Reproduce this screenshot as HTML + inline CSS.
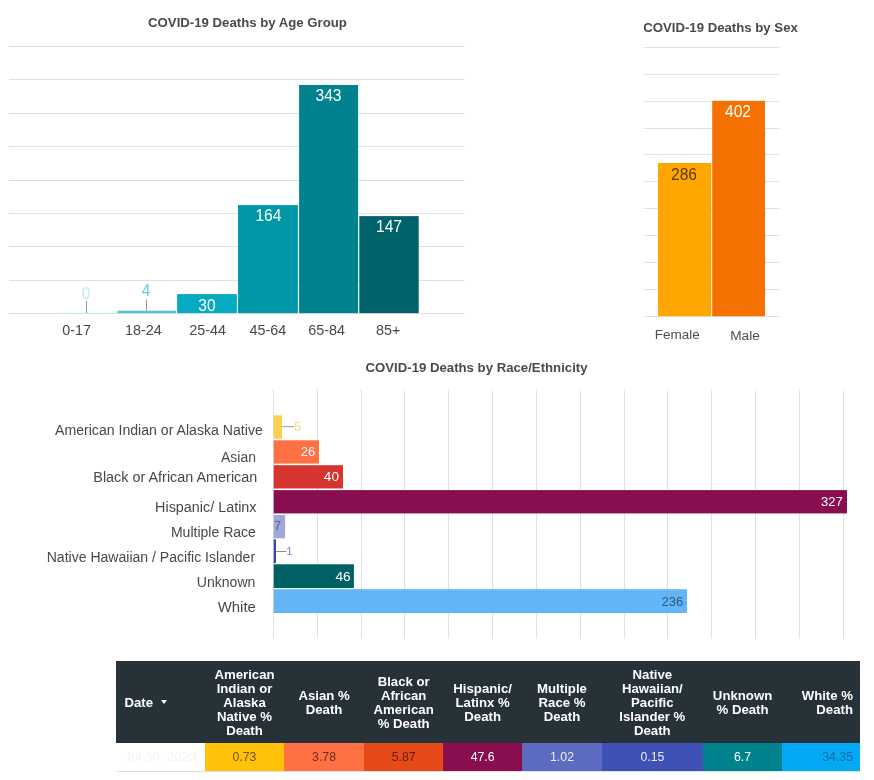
<!DOCTYPE html>
<html><head><meta charset="utf-8"><title>COVID-19 Deaths</title>
<style>
html,body{margin:0;padding:0;background:#fff;}
body{width:874px;height:780px;position:relative;overflow:hidden;font-family:"Liberation Sans",sans-serif;}
svg{position:absolute;left:0;top:0;}
svg text{font-family:"Liberation Sans",sans-serif;}
.t{font-weight:bold;font-size:13.2px;fill:#4a4a4a;}
.ax{font-size:14.4px;fill:#484848;}
.rl{font-size:14px;fill:#484848;}
.v{font-size:15.6px;}
.rv{font-size:12.3px;}
#tbl{position:absolute;left:116px;top:661px;width:744px;height:110px;}
#tbl .h{position:absolute;top:0;height:82px;background:#263238;color:#fff;font-weight:bold;font-size:13.2px;line-height:14px;display:flex;align-items:center;justify-content:center;text-align:center;}
#tbl .h span{position:relative;top:0.7px;}
#tbl .c{position:absolute;top:82px;height:28px;font-size:12.3px;line-height:28px;text-align:center;}
</style></head><body>
<svg width="874" height="780" viewBox="0 0 874 780">

<g><rect x="9" y="313" width="455.5" height="1" fill="#e0e0e0"/><rect x="9" y="280" width="455.5" height="1" fill="#e0e0e0"/><rect x="9" y="246" width="455.5" height="1" fill="#e0e0e0"/><rect x="9" y="213" width="455.5" height="1" fill="#e0e0e0"/><rect x="9" y="180" width="455.5" height="1" fill="#e0e0e0"/><rect x="9" y="146" width="455.5" height="1" fill="#e0e0e0"/><rect x="9" y="113" width="455.5" height="1" fill="#e0e0e0"/><rect x="9" y="79" width="455.5" height="1" fill="#e0e0e0"/><rect x="9" y="46" width="455.5" height="1" fill="#e0e0e0"/></g>
<text class="t" x="247.5" y="27.2" text-anchor="middle">COVID-19 Deaths by Age Group</text>
<rect x="56.8" y="312.8" width="59.2" height="1" fill="#b2ebf2"/>
<rect x="117.4" y="310.7" width="58.60" height="2.40" fill="#4fc3d4"/>
<rect x="177.1" y="294.1" width="59.80" height="19.00" fill="#05abc0"/>
<rect x="238" y="205.1" width="59.90" height="108.00" fill="#0097a7"/>
<rect x="299.1" y="85" width="59.00" height="228.10" fill="#00838f"/>
<rect x="359.3" y="216.1" width="59.40" height="97.00" fill="#00626b"/>
<rect x="86" y="301" width="1" height="12" fill="#999"/>
<rect x="146" y="299.4" width="1" height="11.4" fill="#999"/>
<text class="v" x="86" y="299" text-anchor="middle" fill="#c0e9f0">0</text>
<text class="v" x="146.2" y="296.4" text-anchor="middle" fill="#6ccadb">4</text>
<text class="v" x="207" y="310.6" text-anchor="middle" fill="#fff">30</text>
<text class="v" x="268.4" y="221" text-anchor="middle" fill="#fff">164</text>
<text class="v" x="328.5" y="101.3" text-anchor="middle" fill="#fff">343</text>
<text class="v" x="389" y="232.2" text-anchor="middle" fill="#fff">147</text>
<text class="ax" x="76.6" y="335" text-anchor="middle">0-17</text>
<text class="ax" x="143.4" y="335" text-anchor="middle">18-24</text>
<text class="ax" x="207.7" y="335" text-anchor="middle">25-44</text>
<text class="ax" x="267.9" y="335" text-anchor="middle">45-64</text>
<text class="ax" x="326.6" y="335" text-anchor="middle">65-84</text>
<text class="ax" x="388.3" y="335" text-anchor="middle">85+</text>
<g><rect x="644" y="316" width="135.5" height="1" fill="#e0e0e0"/><rect x="644" y="289" width="135.5" height="1" fill="#e0e0e0"/><rect x="644" y="262" width="135.5" height="1" fill="#e0e0e0"/><rect x="644" y="235" width="135.5" height="1" fill="#e0e0e0"/><rect x="644" y="208" width="135.5" height="1" fill="#e0e0e0"/><rect x="644" y="181" width="135.5" height="1" fill="#e0e0e0"/><rect x="644" y="154" width="135.5" height="1" fill="#e0e0e0"/><rect x="644" y="128" width="135.5" height="1" fill="#e0e0e0"/><rect x="644" y="101" width="135.5" height="1" fill="#e0e0e0"/><rect x="644" y="74" width="135.5" height="1" fill="#e0e0e0"/><rect x="644" y="47" width="135.5" height="1" fill="#e0e0e0"/></g>
<text class="t" x="720.5" y="32" text-anchor="middle">COVID-19 Deaths by Sex</text>
<rect x="658" y="163" width="53.2" height="153.20" fill="#ffa600"/>
<rect x="712.2" y="100.8" width="52.8" height="215.40" fill="#f57200"/>
<text class="v" x="684" y="179.5" text-anchor="middle" fill="#5c3a00">286</text>
<text class="v" x="738" y="117" text-anchor="middle" fill="#fff">402</text>
<text x="677.2" y="338.5" text-anchor="middle" style="font-size:13.5px" fill="#4d4d4d">Female</text>
<text x="745" y="340" text-anchor="middle" style="font-size:13.7px" fill="#4d4d4d">Male</text>
<text class="t" x="476.5" y="371.5" text-anchor="middle">COVID-19 Deaths by Race/Ethnicity</text>
<g><rect x="273" y="389.5" width="1" height="249" fill="#e0e0e0"/><rect x="317" y="389.5" width="1" height="249" fill="#e0e0e0"/><rect x="361" y="389.5" width="1" height="249" fill="#e0e0e0"/><rect x="404" y="389.5" width="1" height="249" fill="#e0e0e0"/><rect x="448" y="389.5" width="1" height="249" fill="#e0e0e0"/><rect x="492" y="389.5" width="1" height="249" fill="#e0e0e0"/><rect x="536" y="389.5" width="1" height="249" fill="#e0e0e0"/><rect x="580" y="389.5" width="1" height="249" fill="#e0e0e0"/><rect x="624" y="389.5" width="1" height="249" fill="#e0e0e0"/><rect x="667" y="389.5" width="1" height="249" fill="#e0e0e0"/><rect x="711" y="389.5" width="1" height="249" fill="#e0e0e0"/><rect x="755" y="389.5" width="1" height="249" fill="#e0e0e0"/><rect x="799" y="389.5" width="1" height="249" fill="#e0e0e0"/><rect x="843" y="389.5" width="1" height="249" fill="#e0e0e0"/></g>
<rect x="273.7" y="415.35" width="8.30" height="23.3" fill="#fbd04a"/>
<text class="rl" x="262.79999999999995" y="434.7" text-anchor="end" textLength="207.8" lengthAdjust="spacingAndGlyphs">American Indian or Alaska Native</text>
<rect x="273.7" y="440.27" width="45.30" height="23.3" fill="#ff7043"/>
<text class="rl" x="255.9" y="461.6" text-anchor="end" textLength="34.8" lengthAdjust="spacingAndGlyphs">Asian</text>
<rect x="273.7" y="465.19" width="69.30" height="23.3" fill="#d7352f"/>
<text class="rl" x="257.29999999999995" y="481.9" text-anchor="end" textLength="164" lengthAdjust="spacingAndGlyphs">Black or African American</text>
<rect x="273.7" y="490.11" width="573.30" height="23.3" fill="#880e4f"/>
<text class="rl" x="256.5" y="512.1" text-anchor="end" textLength="101.4" lengthAdjust="spacingAndGlyphs">Hispanic/ Latinx</text>
<rect x="273.7" y="515.03" width="11.40" height="23.3" fill="#9fa8da"/>
<text class="rl" x="255.9" y="536.6" text-anchor="end" textLength="85" lengthAdjust="spacingAndGlyphs">Multiple Race</text>
<rect x="273.7" y="539.35" width="2.30" height="23.8" fill="#3949ab"/>
<text class="rl" x="255.1" y="562.2" text-anchor="end" textLength="208.4" lengthAdjust="spacingAndGlyphs">Native Hawaiian / Pacific Islander</text>
<rect x="273.7" y="564.27" width="80.20" height="23.8" fill="#006064"/>
<text class="rl" x="255.4" y="586.9" text-anchor="end" textLength="58.6" lengthAdjust="spacingAndGlyphs">Unknown</text>
<rect x="273.7" y="589.19" width="413.30" height="23.8" fill="#64b5f6"/>
<text class="rl" x="255.9" y="611.6" text-anchor="end" textLength="38.2" lengthAdjust="spacingAndGlyphs">White</text>
<rect x="282" y="426.2" width="12" height="1" fill="#999"/>
<text class="rv" x="294.3" y="431" fill="#f8dc84">5</text>
<text class="rv" x="315.2" y="456" text-anchor="end" fill="#fff" textLength="14.4" lengthAdjust="spacingAndGlyphs">26</text>
<text class="rv" x="339" y="481" text-anchor="end" fill="#fff" textLength="15.2" lengthAdjust="spacingAndGlyphs">40</text>
<text class="rv" x="842.8" y="506" text-anchor="end" fill="#fff" textLength="21.8" lengthAdjust="spacingAndGlyphs">327</text>
<text class="rv" x="274.2" y="530" fill="#5a6288">7</text>
<rect x="276.3" y="551" width="10.2" height="1" fill="#8087b5"/>
<text class="rv" x="286.2" y="555.4" fill="#8088c0" style="font-size:11.5px">1</text>
<text class="rv" x="350.6" y="580.5" text-anchor="end" fill="#fff" textLength="15.2" lengthAdjust="spacingAndGlyphs">46</text>
<text class="rv" x="683.3" y="605.5" text-anchor="end" fill="#2c5a80" textLength="21.8" lengthAdjust="spacingAndGlyphs">236</text>
</svg>
<div id="tbl">
<div class="h" style="left:0.0px;width:88.8px;justify-content:flex-start;"><span style="margin-left:8.5px">Date</span><span style="display:inline-block;margin-left:8.4px;width:0;height:0;border-left:3.3px solid transparent;border-right:3.3px solid transparent;border-top:4.2px solid #fff;position:relative;top:0px;"></span></div>
<div class="c" style="left:0.0px;width:88.8px;background:#fff;color:#f3f3f3;font-size:13px;letter-spacing:0.1px">Jul 30, 2020</div>
<div class="h" style="left:88.8px;width:79.4px;"><span>American<br>Indian or<br>Alaska<br>Native %<br>Death</span></div>
<div class="c" style="left:88.8px;width:79.4px;background:#ffc10a;color:#6e5408;">0.73</div>
<div class="h" style="left:168.2px;width:79.8px;"><span>Asian %<br>Death</span></div>
<div class="c" style="left:168.2px;width:79.8px;background:#ff7043;color:#6e2e1c;">3.78</div>
<div class="h" style="left:248.0px;width:79.3px;"><span>Black or<br>African<br>American<br>% Death</span></div>
<div class="c" style="left:248.0px;width:79.3px;background:#e64a19;color:#621f0c;">5.87</div>
<div class="h" style="left:327.3px;width:78.7px;"><span>Hispanic/<br>Latinx %<br>Death</span></div>
<div class="c" style="left:327.3px;width:78.7px;background:#880e4f;color:#fff;">47.6</div>
<div class="h" style="left:406.0px;width:80.0px;"><span>Multiple<br>Race %<br>Death</span></div>
<div class="c" style="left:406.0px;width:80.0px;background:#5c6bc0;color:#eef0fa;">1.02</div>
<div class="h" style="left:486.0px;width:100.7px;"><span>Native<br>Hawaiian/<br>Pacific<br>Islander %<br>Death</span></div>
<div class="c" style="left:486.0px;width:100.7px;background:#3f51b5;color:#e8eaf6;">0.15</div>
<div class="h" style="left:586.7px;width:79.7px;"><span>Unknown<br>% Death</span></div>
<div class="c" style="left:586.7px;width:79.7px;background:#00838f;color:#fff;">6.7</div>
<div class="h" style="left:666.4px;width:77.6px;justify-content:flex-end;text-align:right;"><span style="margin-right:7px">White %<br>Death</span></div>
<div class="c" style="left:666.4px;width:70.6px;padding-right:7px;text-align:right;background:#03a9f4;color:#156ca6;">34.35</div>
<div style="position:absolute;left:0;top:110px;width:744px;height:1px;background:#e0e0e0"></div>
</div>
</body></html>
